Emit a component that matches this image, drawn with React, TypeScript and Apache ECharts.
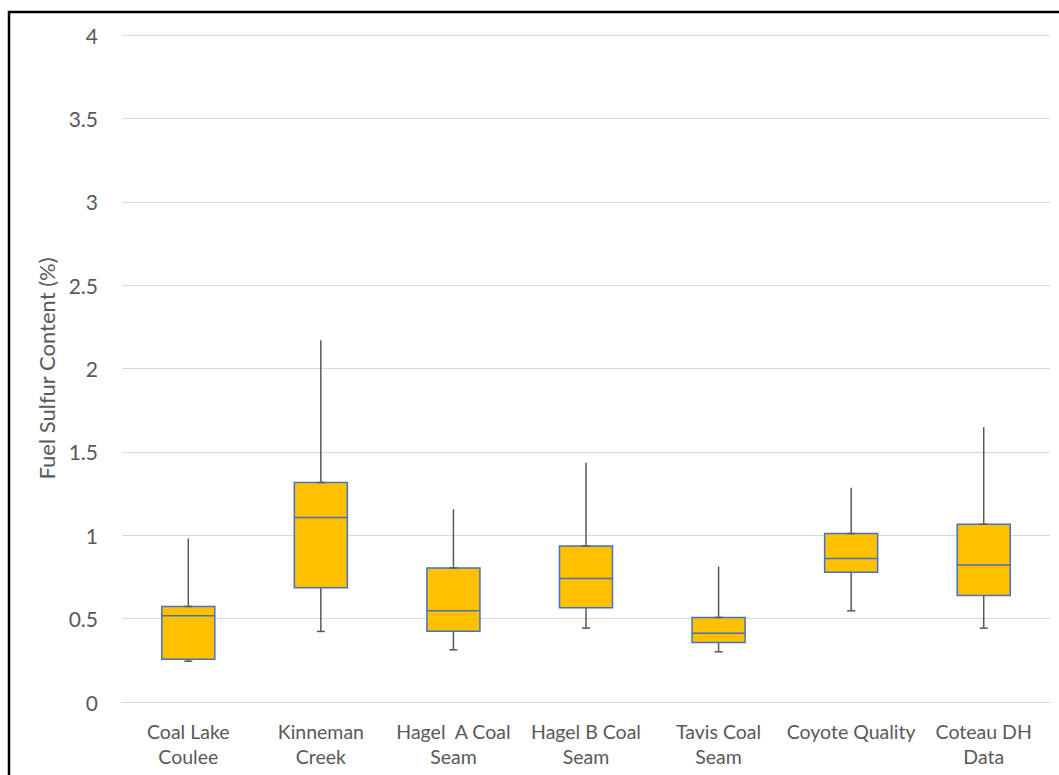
import React, { useEffect, useRef } from "react";
import * as echarts from "echarts";

const categories = [
  "Coal Lake\nCoulee",
  "Kinneman\nCreek",
  "Hagel  A Coal\nSeam",
  "Hagel B Coal\nSeam",
  "Tavis Coal\nSeam",
  "Coyote Quality",
  "Coteau DH\nData",
];
const whiskerLow = [0.245, 0.423, 0.313, 0.443, 0.301, 0.547, 0.443];
const q1 = [0.257, 0.685, 0.425, 0.565, 0.357, 0.778, 0.639];
const median = [0.517, 1.106, 0.547, 0.741, 0.413, 0.86, 0.822];
const q3 = [0.573, 1.316, 0.804, 0.936, 0.507, 1.01, 1.066];
const whiskerHigh = [0.98, 2.17, 1.156, 1.435, 0.813, 1.285, 1.648];
const yTicks = { min: 0, max: 4, interval: 0.5 };

const FONT = "Lato";
const TEXT = "#595959";

export default function App() {
  const ref = useRef<HTMLDivElement>(null);
  useEffect(() => {
    if (!ref.current) return;
    const chart = echarts.init(ref.current, undefined, { renderer: "svg" });
    const data = categories.map((_, i) => [i, whiskerLow[i], q1[i], median[i], q3[i], whiskerHigh[i]]);
    chart.setOption({
      animation: false,
      backgroundColor: "#ffffff",
      grid: { left: 122, right: 9, top: 35, bottom: 73 },
      xAxis: {
        type: "category",
        data: categories,
        axisTick: { show: false },
        axisLine: { show: true, lineStyle: { color: "#D9D9D9", width: 1 } },
        axisLabel: {
          interval: 0,
          fontFamily: FONT,
          fontSize: 19.5,
          color: TEXT,
          margin: 17,
          lineHeight: 25,
        },
      },
      yAxis: {
        type: "value",
        min: yTicks.min,
        max: yTicks.max,
        interval: yTicks.interval,
        name: "Fuel Sulfur Content (%)",
        nameLocation: "middle",
        nameRotate: 90,
        nameGap: 62,
        nameTextStyle: { fontFamily: FONT, fontSize: 22, color: TEXT },
        axisLine: { show: false },
        axisTick: { show: false },
        axisLabel: { fontFamily: FONT, fontSize: 21, color: TEXT, margin: 24 },
        splitLine: { lineStyle: { color: "#D9D9D9", width: 1 } },
      },
      graphic: [
        {
          type: "polyline",
          shape: { points: [[9, 800], [9, 12], [1070, 12]] },
          style: { stroke: "#000000", lineWidth: 2.5, fill: null },
          silent: true,
        },
      ],
      series: [
        {
          type: "custom",
          data,
          encode: { x: 0, y: [1, 2, 3, 4, 5] },
          renderItem: (params: any, api: any) => {
            const x = api.value(0);
            const pLow = api.coord([x, api.value(1)]);
            const pQ1 = api.coord([x, api.value(2)]);
            const pMed = api.coord([x, api.value(3)]);
            const pQ3 = api.coord([x, api.value(4)]);
            const pHigh = api.coord([x, api.value(5)]);
            const band = api.size([1, 0])[0];
            const w = band * 0.4;
            const cx = pMed[0];
            const cap = 4;
            const wStyle = { stroke: "#595959", lineWidth: 1.5 };
            return {
              type: "group",
              children: [
                { type: "line", shape: { x1: cx, y1: pHigh[1], x2: cx, y2: pQ3[1] }, style: wStyle },
                { type: "line", shape: { x1: cx, y1: pLow[1], x2: cx, y2: pQ1[1] }, style: wStyle },
                {
                  type: "rect",
                  shape: { x: cx - w / 2, y: pQ3[1], width: w, height: pQ1[1] - pQ3[1] },
                  style: { fill: "#FFC000", stroke: "#4472C4", lineWidth: 1.5 },
                },
                {
                  type: "line",
                  shape: { x1: cx - w / 2, y1: pMed[1], x2: cx + w / 2, y2: pMed[1] },
                  style: { stroke: "#4472C4", lineWidth: 1.5 },
                },
                { type: "line", shape: { x1: cx - cap, y1: pLow[1], x2: cx + cap, y2: pLow[1] }, style: wStyle },
                { type: "line", shape: { x1: cx - cap, y1: pQ3[1], x2: cx + cap, y2: pQ3[1] }, style: wStyle },
              ],
            };
          },
        },
      ],
    });
    return () => chart.dispose();
  }, []);
  return (
    <div
      ref={ref}
      style={{ position: "fixed", left: 0, top: 0, width: 1059, height: 775 }}
    />
  );
}
